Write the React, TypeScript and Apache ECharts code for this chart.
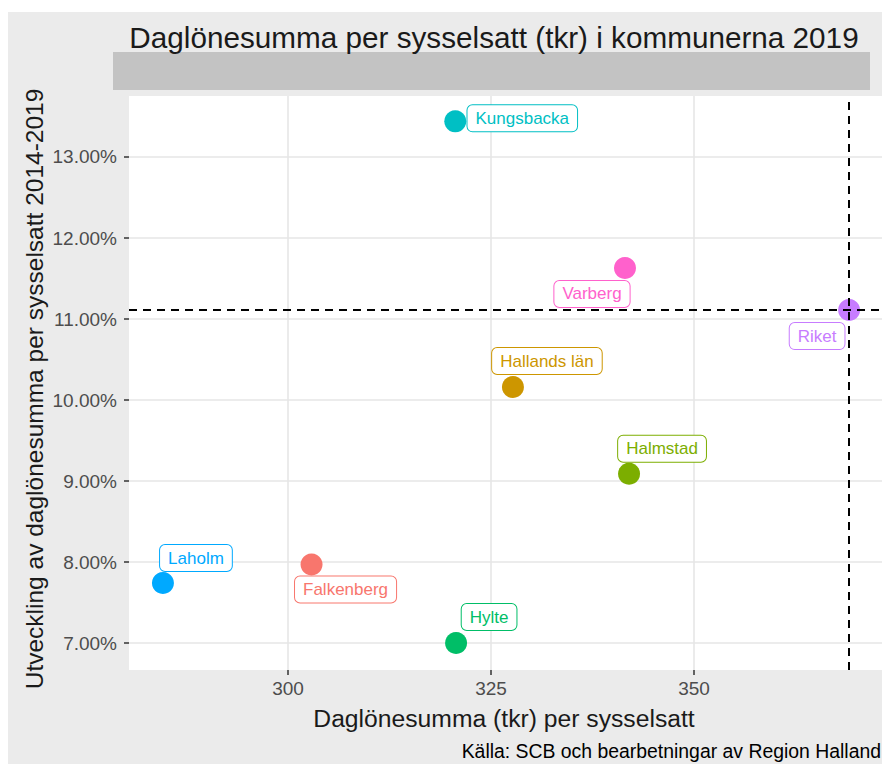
import React, { useEffect, useRef } from "react";
import * as echarts from "echarts";

// ---- data ----
const names = ["Falkenberg", "Hallands län", "Halmstad", "Hylte", "Kungsbacka", "Laholm", "Riket", "Varberg"];
const wageSum = [302.9, 327.7, 342.0, 320.7, 320.6, 284.6, 369.1, 341.5];
const growth = [7.97, 10.16, 9.09, 7.0, 13.44, 7.74, 11.11, 11.63];
const xTicks = [300, 325, 350];
const yTicks = [7, 8, 9, 10, 11, 12, 13];

// ---- styling ----
const colors = ["#F8766D", "#CD9600", "#7CAE00", "#00BE67", "#00BFC4", "#00A9FF", "#C77CFF", "#FF61CC"];
const labelOffsets: [number, number][] = [
  [34, 25],
  [34, -26],
  [33, -25],
  [33, -26],
  [67, -3],
  [33, -25],
  [-32, 26],
  [-33, 26],
];

const FONT = "'Liberation Sans', Arial, Helvetica, sans-serif";

export default function App() {
  const ref = useRef<HTMLDivElement>(null);

  useEffect(() => {
    if (!ref.current) return;
    const chart = echarts.init(ref.current, undefined, { renderer: "svg" });
    const riket = names.indexOf("Riket");

    const data = names.map((n, i) => ({
      name: n,
      value: [wageSum[i], growth[i]],
      itemStyle: { color: colors[i], opacity: 1 },
      label: {
        color: colors[i],
        borderColor: colors[i],
        offset: labelOffsets[i],
      },
    }));

    chart.setOption({
      animation: false,
      textStyle: { fontFamily: FONT },
      grid: {
        left: 129,
        right: 0,
        top: 96,
        bottom: 94,
        show: true,
        backgroundColor: "#ffffff",
        borderWidth: 0,
      },
      xAxis: {
        type: "value",
        min: 280.42,
        max: 373.15,
        axisLine: { show: false },
        axisTick: { show: true, length: 5, customValues: xTicks, lineStyle: { color: "#333333", width: 1.5 } },
        axisLabel: {
          customValues: xTicks,
          color: "#4D4D4D",
          fontSize: 19,
          fontFamily: FONT,
          margin: 9,
        },
        splitLine: { show: true, lineStyle: { color: "#E6E6E6", width: 1.6 } },
      },
      yAxis: {
        type: "value",
        min: 6.667,
        max: 13.753,
        axisLine: { show: false },
        axisTick: { show: true, length: 5, customValues: yTicks, lineStyle: { color: "#333333", width: 1.5 } },
        axisLabel: {
          customValues: yTicks,
          color: "#4D4D4D",
          fontSize: 19,
          fontFamily: FONT,
          margin: 12,
          formatter: (v: number) => v.toFixed(2) + "%",
        },
        splitLine: { show: true, lineStyle: { color: "#E6E6E6", width: 1.6 } },
      },
      graphic: [
        {
          type: "rect",
          z: -100,
          shape: { x: 113, y: 52, width: 757, height: 38 },
          style: { fill: "#C3C3C3" },
        },
        {
          type: "text",
          x: 494,
          y: 37,
          style: {
            text: "Daglönesumma per sysselsatt (tkr) i kommunerna 2019",
            fontSize: 29.7,
            fontFamily: FONT,
            fill: "#1A1A1A",
            align: "center",
            verticalAlign: "middle",
          },
        },
        {
          type: "text",
          x: 504,
          y: 718,
          style: {
            text: "Daglönesumma (tkr) per sysselsatt",
            fontSize: 24.7,
            fontFamily: FONT,
            fill: "#1A1A1A",
            align: "center",
            verticalAlign: "middle",
          },
        },
        {
          type: "text",
          x: 34,
          y: 389,
          rotation: Math.PI / 2,
          style: {
            text: "Utveckling av daglönesumma per sysselsatt 2014-2019",
            fontSize: 24.5,
            fontFamily: FONT,
            fill: "#1A1A1A",
            align: "center",
            verticalAlign: "middle",
          },
        },
        {
          type: "text",
          x: 881,
          y: 751,
          style: {
            text: "Källa: SCB och bearbetningar av Region Halland",
            fontSize: 19.4,
            fontFamily: FONT,
            fill: "#000000",
            align: "right",
            verticalAlign: "middle",
          },
        },
      ],
      series: [
        {
          type: "scatter",
          symbolSize: 22,
          z: 2,
          data,
          label: {
            show: true,
            position: "inside",
            formatter: "{b}",
            fontSize: 17,
            fontFamily: FONT,
            backgroundColor: "#ffffff",
            borderWidth: 1,
            borderRadius: 5,
            padding: [5, 8, 4, 8],
          },
          markLine: {
            silent: true,
            symbol: "none",
            z: 5,
            label: { show: false },
            lineStyle: { color: "#000000", width: 2, type: [8, 6] },
            data: [{ xAxis: wageSum[riket] }, { yAxis: growth[riket] }],
          },
        },
      ],
    });

    return () => chart.dispose();
  }, []);

  return (
    <div style={{ position: "absolute", left: 0, top: 0, width: 882, height: 764, background: "#ffffff" }}>
      <div style={{ position: "absolute", left: 8, top: 12, width: 874, height: 752, background: "#EBEBEB" }} />
      <div ref={ref} style={{ position: "absolute", left: 0, top: 0, width: 882, height: 764 }} />
    </div>
  );
}
